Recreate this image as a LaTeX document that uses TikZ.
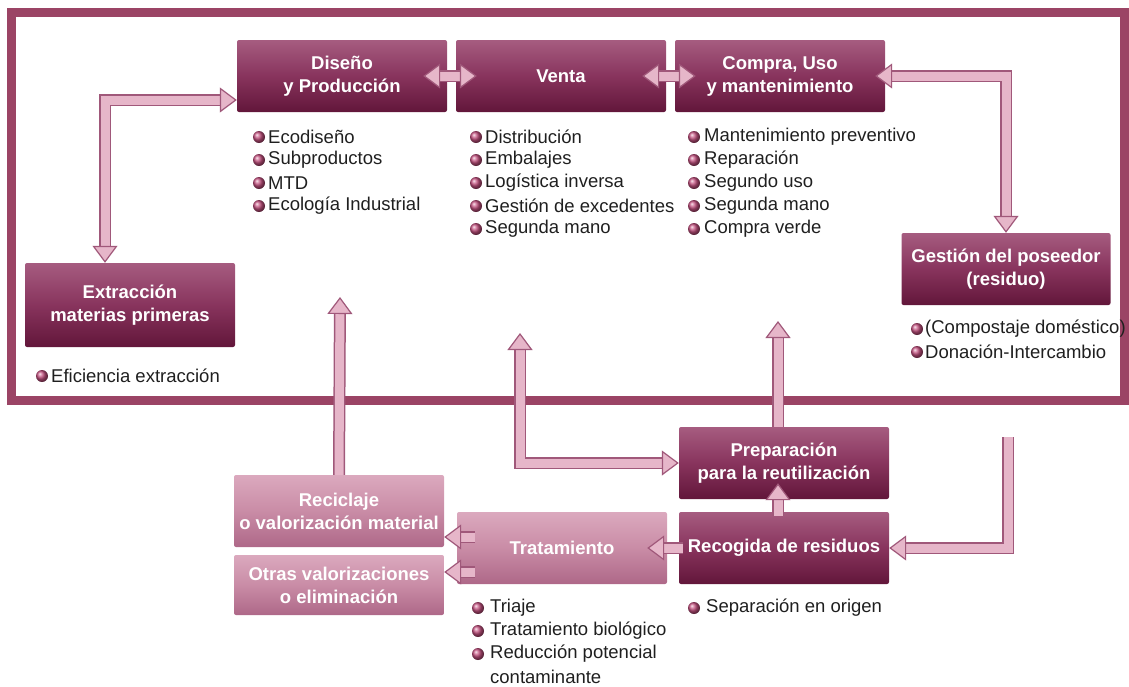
\documentclass[tikz,border=0pt]{standalone}
\usepackage{fontspec}
\setmainfont{Liberation Sans}
\usetikzlibrary{arrows.meta}

\definecolor{marco}{HTML}{9B4465}
\definecolor{vinoA}{HTML}{A65C80}
\definecolor{vinoB}{HTML}{88345D}
\definecolor{vinoC}{HTML}{62163A}
\definecolor{rosaA}{HTML}{DBA9BE}
\definecolor{rosaB}{HTML}{C98CA6}
\definecolor{rosaC}{HTML}{AE6888}
\definecolor{flecha}{HTML}{E6B6C9}
\definecolor{flechaborde}{HTML}{A0587A}
\definecolor{bola}{HTML}{C4507F}

\tikzset{
  caja/.style={rectangle, rounded corners=2pt, minimum width=210pt, minimum height=72pt,
    align=center, text=white, font=\bfseries\fontsize{18.5}{23}\selectfont,
    top color=vinoA, bottom color=vinoC, middle color=vinoB},
  clara/.style={caja, top color=rosaA, bottom color=rosaC, middle color=rosaB},
  item/.style={anchor=west, inner sep=0pt, font=\fontsize{18.5}{23}\selectfont, text=black!88},
  punta/.tip={Triangle[width=25pt,length=17pt,fill=flecha,color=flechaborde,line width=1.2pt]},
  gorda/.style={draw=flecha, line width=9pt, -punta,
    preaction={draw=flechaborde, line width=12pt, arrows=-, shorten >=10pt}},
  gordas/.style={draw=flecha, line width=9pt, punta-punta,
    preaction={draw=flechaborde, line width=12pt, arrows=-, shorten >=10pt, shorten <=10pt}}
}

\begin{document}
\begin{tikzpicture}[x=1pt,y=-1pt]
  \useasboundingbox (0,0) rectangle (1129,686);
  \draw[marco, line width=9pt] (11,12) rectangle (1124,400);

  % cajas de arriba
  \node[caja] (dis) at (342,76) {Diseño\\y Producción};
  \node[caja] (ven) at (561,76) {Venta};
  \node[caja] (com) at (780,76) {Compra, Uso\\y mantenimiento};
  \node[caja, minimum height=84pt] (ext) at (130,305) {Extracción\\materias primeras};
  \node[caja, minimum width=209pt] (ges) at (1006,269) {Gestión del poseedor\\(residuo)};

  % cajas de abajo
  \node[caja] (pre) at (784,463) {Preparación\\para la reutilización};
  \node[caja] (rco) at (784,548) {Recogida de residuos};
  \node[clara] (tra) at (562,548) {Tratamiento};
  \node[clara] (rec) at (339,511) {Reciclaje\\o valorización material};
  \node[clara, minimum height=60pt] (otr) at (339,585) {Otras valorizaciones\\o eliminación};

  % listas
  \foreach \t [count=\i] in {Ecodiseño,Subproductos,MTD,Ecología Industrial} {
    \shade[ball color=bola] (259,114+23*\i) circle (6pt);
    \node[item] (d\i) at (268,114+23*\i) {\t};
  }
  \foreach \t [count=\i] in {Distribución,Embalajes,Logística inversa,Gestión de excedentes,Segunda mano} {
    \shade[ball color=bola] (476,114+23*\i) circle (6pt);
    \node[item] (v\i) at (485,114+23*\i) {\t};
  }
  \foreach \t [count=\i] in {Mantenimiento preventivo,Reparación,Segundo uso,Segunda mano,Compra verde} {
    \shade[ball color=bola] (694,114+23*\i) circle (6pt);
    \node[item] (c\i) at (704,114+23*\i) {\t};
  }
  \foreach \t [count=\i] in {(Compostaje doméstico),Donación-Intercambio} {
    \shade[ball color=bola] (917,306+23*\i) circle (6pt);
    \node[item] (g\i) at (925,306+23*\i) {\t};
  }
  \shade[ball color=bola] (42,376) circle (6pt);
  \node[item] (e1) at (51,376) {Eficiencia extracción};
  \foreach \t [count=\i] in {Triaje,Tratamiento biológico,Reducción potencial} {
    \shade[ball color=bola] (478,585+23*\i) circle (6pt);
    \node[item] (t\i) at (490,585+23*\i) {\t};
  }
  \node[item] (t4) at (490,677) {contaminante};
  \shade[ball color=bola] (694,608) circle (6pt);
  \node[item] (r1) at (706,608) {Separación en origen};

  % flechas
  \coordinate (p1) at (340,297);
  \coordinate (p2) at (520,333);
  \coordinate (p3) at (778,321);
  \coordinate (p4) at (1008,437);
  \draw[gordas] ([xshift=-24pt]dis.east) -- ([xshift=21pt]ven.west);
  \draw[gordas] ([xshift=-24pt]ven.east) -- ([xshift=21pt]com.west);
  \draw[gordas] ([xshift=-25pt]ext.north) |- ([yshift=-24pt]dis.west);
  \draw[gordas] ([xshift=-10pt]com.east) -| (ges.north);
  \draw[gorda] (rec.north) -- (p1);
  \draw[gordas] (p2) |- (pre.west);
  \draw[gorda] (pre.north -| p3) -- (p3);
  \draw[gorda] ([xshift=-6pt,yshift=-4pt]rco.north) -- ([xshift=-6pt,yshift=16pt]pre.south);
  \draw[gorda] (p4) |- (rco.east);
  \draw[gorda] ([xshift=4pt]rco.west) -- ([xshift=-20pt]tra.east);
  \draw[gorda] ([xshift=18pt,yshift=11pt]tra.west) -- ([yshift=11pt]tra.west -| rec.east);
  \draw[gorda] ([xshift=18pt,yshift=-24pt]tra.west) -- ([yshift=-24pt]tra.west -| otr.east);
\end{tikzpicture}
\end{document}
